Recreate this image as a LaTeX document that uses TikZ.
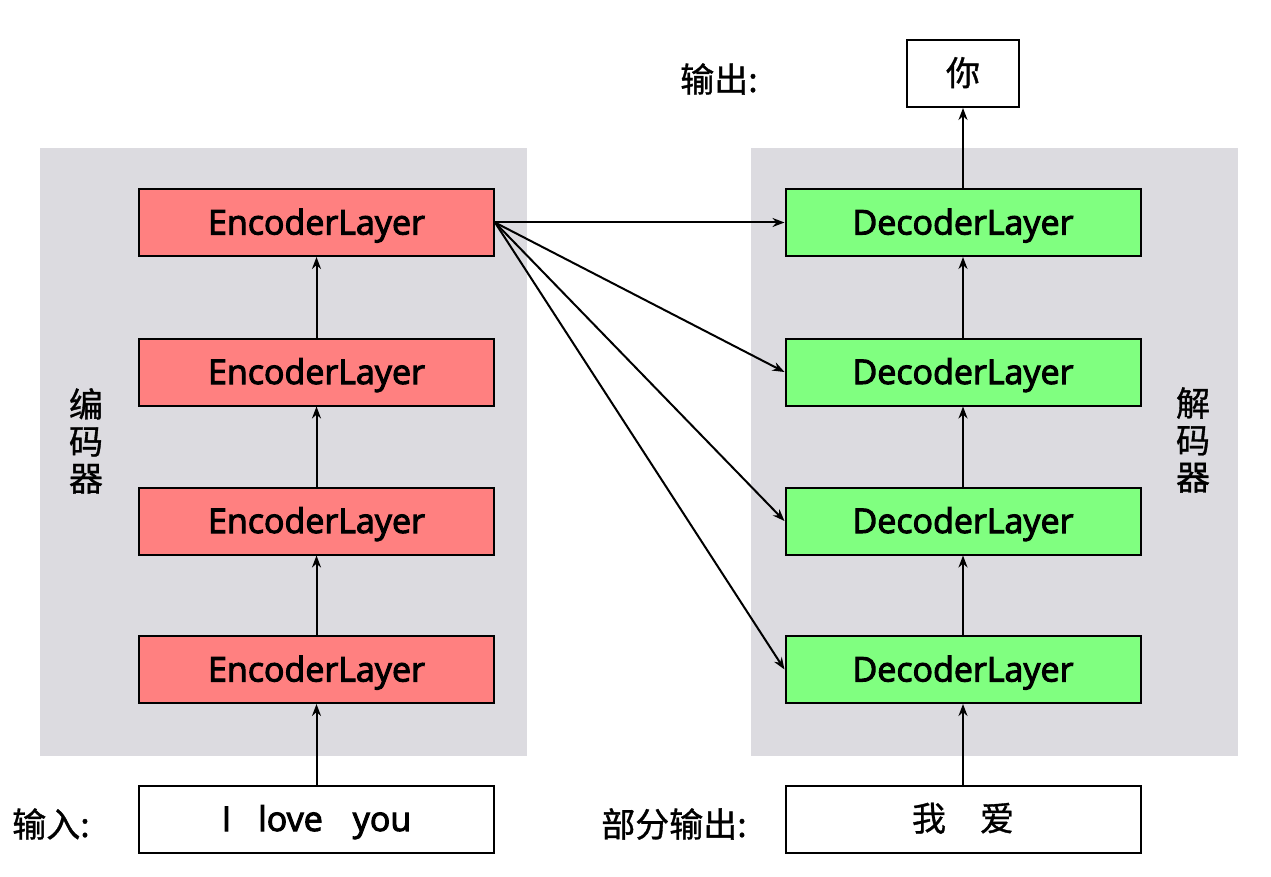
\documentclass[tikz,border=0pt]{standalone}
\usepackage{fontspec}
\setmainfont{Open Sans}
\newfontfamily\layerfont{Open Sans}[FakeBold=3]
\newfontfamily\cjk{Noto Sans CJK SC}[FakeBold=1]
\usepackage{xcolor}
\usepackage{tikz}
\usetikzlibrary{arrows.meta}

\definecolor{panelgray}{RGB}{220,219,224}
\definecolor{encred}{RGB}{255,128,128}
\definecolor{decgreen}{RGB}{128,255,128}

\begin{document}
\begin{tikzpicture}[x=1pt,y=-1pt]
      \tikzstyle{layer}=[draw=black, line width=2pt, minimum width=355pt, minimum height=67pt, inner sep=0pt, text height=26pt, text depth=2pt, font=\layerfont\fontsize{34}{40}\selectfont]
      \tikzstyle{enc_layer}=[layer, fill=encred]
      \tikzstyle{dec_layer}=[layer, fill=decgreen]
      \tikzstyle{io_box}=[layer, fill=white]
      \tikzstyle{panel}=[fill=panelgray]
      \tikzstyle{side_text}=[font=\cjk\fontsize{34}{37}\selectfont, align=center, inner sep=0pt]
      \tikzstyle{io_text}=[font=\cjk\fontsize{34}{40}\selectfont, inner sep=0pt]
      \tikzstyle{link}=[line width=2pt, -{Stealth[length=12pt,width=9pt]}]

      \useasboundingbox (0,0) rectangle (1271,877);

      % encoder
      \begin{scope}
        \fill[panel] (40,148) rectangle (527,756);
        \node (side_enc) [side_text] at (86,441) {编\\码\\器};

        \node (enc1) [enc_layer] at (316.5,669.5) {EncoderLayer};
        \node (enc2) [enc_layer] at (316.5,521) {EncoderLayer};
        \node (enc3) [enc_layer] at (316.5,372) {EncoderLayer};
        \node (enc4) [enc_layer] at (316.5,222.5) {EncoderLayer};

        \node (in_box) [io_box] at (316.5,819) {I\hspace{27pt}love\hspace{30pt}you};
        \node (in_text) [io_text] at (51,824) {输入:};
      \end{scope}

      % decoder
      \begin{scope}
        \fill[panel] (751,148) rectangle (1238,756);
        \node (side_dec) [side_text] at (1193,440) {解\\码\\器};

        \node (dec1) [dec_layer] at (963,669.5) {DecoderLayer};
        \node (dec2) [dec_layer] at (963,521) {DecoderLayer};
        \node (dec3) [dec_layer] at (963,372) {DecoderLayer};
        \node (dec4) [dec_layer] at (963,222.5) {DecoderLayer};

        \node (part_box) [io_box, font=\cjk\fontsize{34}{40}\selectfont] at (963,819) {我\hspace{1em}爱};
        \node (part_text) [io_text] at (674,824) {部分输出:};

        \node (out_box) [io_box, minimum width=112pt, font=\cjk\fontsize{34}{40}\selectfont] at (963,73.5) {你};
        \node (out_text) [io_text] at (719,79) {输出:};
      \end{scope}

      % connections
      \draw[link] (in_box) -- (enc1);
      \draw[link] (enc1) -- (enc2);
      \draw[link] (enc2) -- (enc3);
      \draw[link] (enc3) -- (enc4);

      \draw[link] (part_box) -- (dec1);
      \draw[link] (dec1) -- (dec2);
      \draw[link] (dec2) -- (dec3);
      \draw[link] (dec3) -- (dec4);
      \draw[link] (dec4) -- (out_box);

      \draw[link] (enc4.east) -- (dec4.west);
      \draw[link] (enc4.east) -- (dec3.west);
      \draw[link] (enc4.east) -- (dec2.west);
      \draw[link] (enc4.east) -- (dec1.west);
    \end{tikzpicture}
\end{document}
